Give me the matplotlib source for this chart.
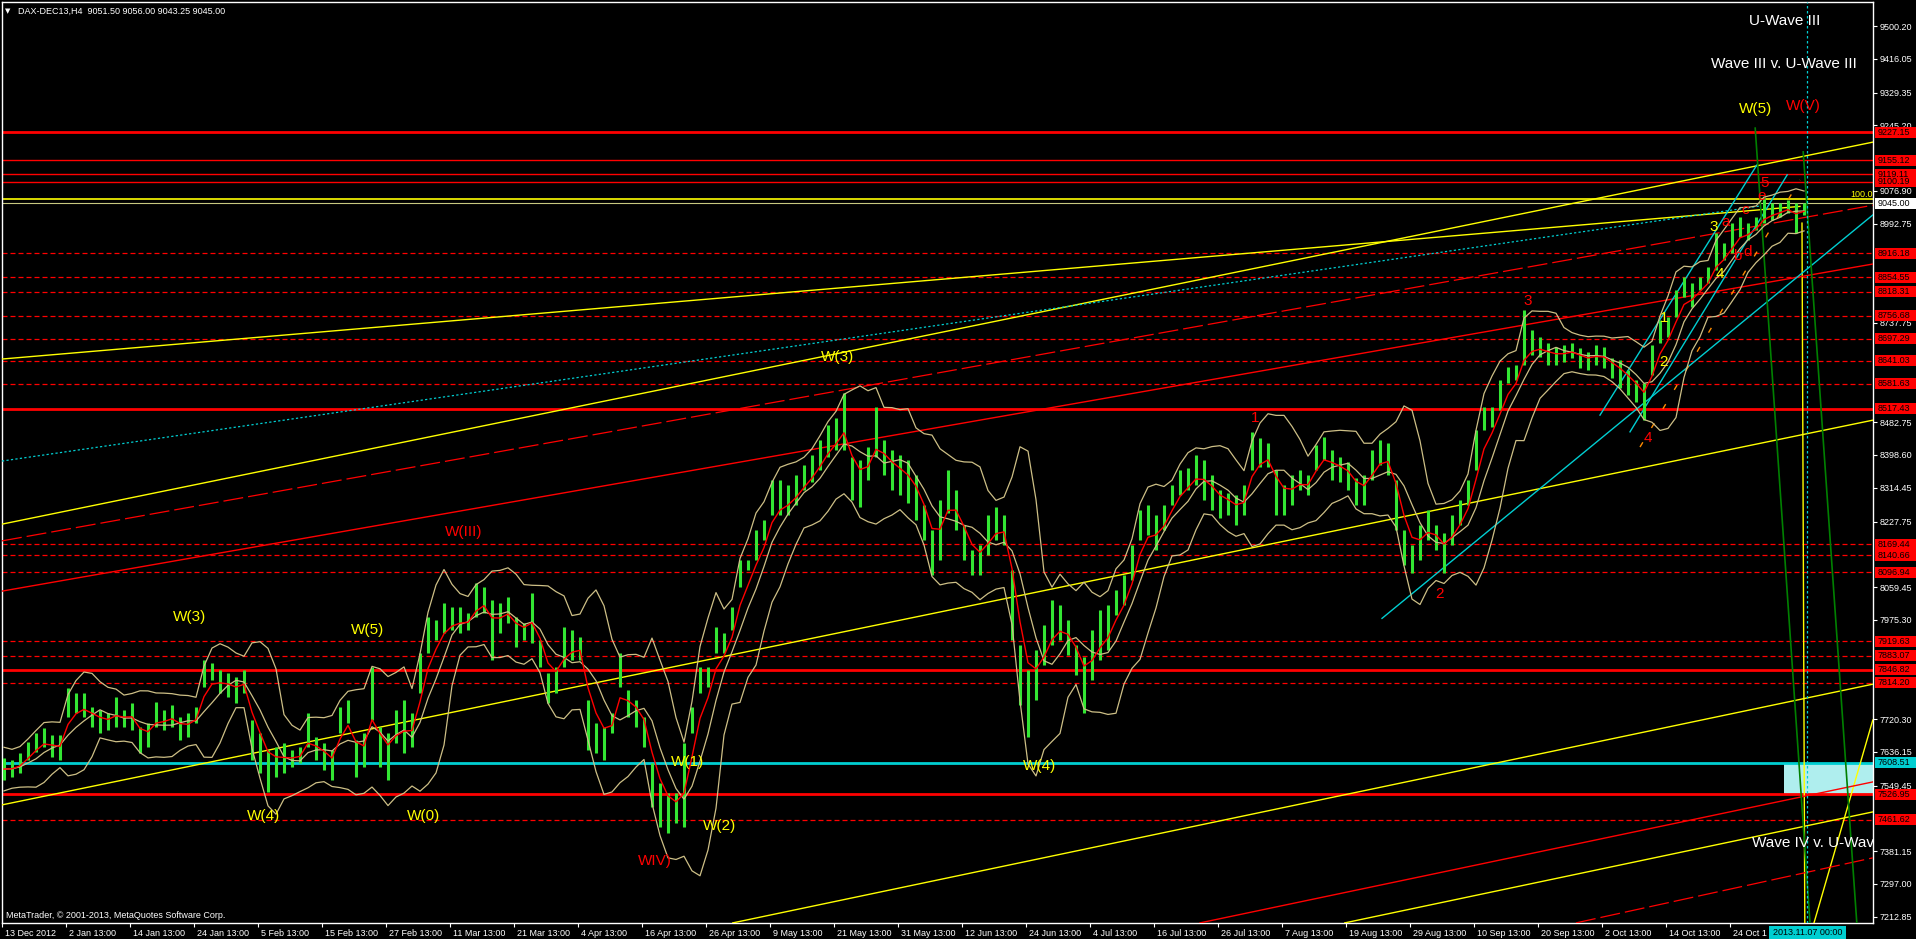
import matplotlib
matplotlib.use('Agg')
import matplotlib.pyplot as plt
from matplotlib.patches import Rectangle
from matplotlib.transforms import ScaledTranslation
import numpy as np
import pandas as pd

plt.rcParams['font.family'] = ['Liberation Sans', 'DejaVu Sans']

# DAX-DEC13 H4 - high / low, about one value per trading day
bar_high = [
    7620, 7615, 7633, 7661, 7685, 7697, 7679, 7679, 7800, 7787,
    7787, 7751, 7744, 7736, 7777, 7744, 7762, 7700, 7710, 7764,
    7744, 7757, 7726, 7736, 7751, 7872, 7864, 7846, 7839, 7828,
    7846, 7718, 7685, 7641, 7649, 7659, 7641, 7649, 7736, 7674,
    7659, 7641, 7751, 7769, 7667, 7685, 7854, 7700, 7685, 7744,
    7769, 7736, 7890, 7982, 7975, 8018, 8008, 8008, 7993, 8070,
    8059, 8026, 8018, 8034, 7982, 7967, 8044, 7923, 7839, 7854,
    7957, 7949, 7931, 7769, 7710, 7700, 7736, 7890, 7795, 7769,
    7726, 7608, 7556, 7531, 7531, 7659, 7751, 7854, 7854, 7957,
    7941, 8008, 8129, 8129, 8206, 8232, 8334, 8334, 8321, 8347,
    8373, 8398, 8437, 8476, 8494, 8558, 8393, 8386, 8419, 8522,
    8437, 8411, 8398, 8386, 8347, 8270, 8206, 8283, 8360, 8309,
    8219, 8155, 8167, 8244, 8265, 8244, 8103, 7910, 7846, 7898,
    7962, 8026, 8013, 7975, 7910, 7880, 7949, 8000, 8013, 8052,
    8090, 8167, 8257, 8270, 8244, 8270, 8321, 8360, 8365, 8398,
    8386, 8347, 8309, 8301, 8296, 8321, 8458, 8442, 8429, 8360,
    8321, 8347, 8360, 8347, 8424, 8445, 8411, 8393, 8381, 8339,
    8347, 8411, 8437, 8429, 8334, 8206, 8167, 8219, 8257, 8219,
    8198, 8244, 8283, 8334, 8463, 8522, 8522, 8591, 8625, 8630,
    8771, 8720, 8702, 8686, 8676, 8681, 8686, 8674, 8663, 8681,
    8676, 8648, 8643, 8617, 8591, 8584, 8681, 8745, 8753, 8822,
    8856, 8840, 8856, 8881, 8969, 8943, 8994, 9010, 8994, 9010,
    9061, 9046, 9046, 9053, 9046, 9046,
]
bar_low = [
    7564, 7572, 7582, 7615, 7636, 7649, 7623, 7615, 7726, 7736,
    7726, 7700, 7685, 7692, 7700, 7700, 7692, 7633, 7649, 7700,
    7692, 7700, 7667, 7674, 7710, 7803, 7821, 7787, 7777, 7762,
    7787, 7615, 7582, 7533, 7572, 7582, 7597, 7608, 7649, 7615,
    7590, 7564, 7685, 7710, 7572, 7597, 7718, 7597, 7564, 7659,
    7633, 7649, 7787, 7890, 7923, 7941, 7949, 7941, 7949, 7982,
    7993, 7872, 7941, 7967, 7905, 7923, 7916, 7854, 7762, 7787,
    7854, 7872, 7872, 7641, 7633, 7615, 7685, 7803, 7726, 7700,
    7649, 7494, 7443, 7428, 7454, 7443, 7685, 7787, 7803, 7890,
    7890, 7949, 8059, 8103, 8129, 8180, 8244, 8244, 8244, 8270,
    8309, 8329, 8360, 8393, 8411, 8411, 8283, 8265, 8334, 8393,
    8347, 8309, 8296, 8275, 8232, 8180, 8090, 8129, 8250, 8206,
    8129, 8090, 8090, 8142, 8180, 8167, 7923, 7757, 7674, 7769,
    7859, 7910, 7923, 7885, 7834, 7736, 7821, 7872, 7898, 7988,
    8013, 8078, 8180, 8193, 8155, 8206, 8270, 8296, 8309, 8321,
    8283, 8257, 8237, 8244, 8219, 8244, 8360, 8368, 8368, 8244,
    8244, 8270, 8309, 8296, 8360, 8386, 8334, 8329, 8309, 8270,
    8270, 8334, 8373, 8347, 8206, 8116, 8095, 8129, 8180, 8155,
    8095, 8167, 8219, 8270, 8360, 8463, 8470, 8514, 8584, 8591,
    8630, 8655, 8650, 8630, 8630, 8637, 8648, 8622, 8617, 8630,
    8622, 8596, 8571, 8553, 8535, 8488, 8604, 8686, 8702, 8753,
    8804, 8779, 8822, 8840, 8874, 8899, 8917, 8959, 8951, 8976,
    8994, 9002, 9010, 9020, 8969, 9015,
]
last_price = 9045.00

# price axis labels that are not hidden behind a level box
price_ticks = [9500.20, 9416.05, 9329.35, 9245.20, 9076.90, 8992.75,
               8737.75, 8482.75, 8398.60, 8314.45, 8227.75, 8059.45, 7975.30,
               7720.30, 7636.15, 7549.45, 7381.15, 7297.00, 7212.85]
# time labels every 32 H4 bars (the last one is cut by the cursor date box)
time_labels = ['13 Dec 2012', '2 Jan 13:00', '14 Jan 13:00', '24 Jan 13:00',
               '5 Feb 13:00', '15 Feb 13:00', '27 Feb 13:00', '11 Mar 13:00',
               '21 Mar 13:00', '4 Apr 13:00', '16 Apr 13:00', '26 Apr 13:00',
               '9 May 13:00', '21 May 13:00', '31 May 13:00', '12 Jun 13:00',
               '24 Jun 13:00', '4 Jul 13:00', '16 Jul 13:00', '26 Jul 13:00',
               '7 Aug 13:00', '19 Aug 13:00', '29 Aug 13:00', '10 Sep 13:00',
               '20 Sep 13:00', '2 Oct 13:00', '14 Oct 13:00', '24 Oct 1']
cursor_date = '2013.11.07 00:00'

# horizontal levels
levels_thick = [9227.15, 8517.43, 7846.82, 7526.95]
levels_thin = [9155.12, 9119.11, 9100.19]
levels_dashed = [8916.18, 8854.55, 8818.31, 8756.68, 8697.29, 8641.03, 8581.63,
                 8169.44, 8140.66, 8096.94, 7919.63, 7883.07, 7814.20, 7461.62]
level_cyan = 7608.51
fib_100 = 9056.0

# trend lines (x0, price0, x1, price1), x counted in daily samples
yellow_lines = [(-0.25, 8221, 233.6, 9202), (-0.25, 8645, 224.5, 9037),
                (-0.25, 7500, 233.6, 8488), (91.1, 7197, 233.6, 7810),
                (167.6, 7197, 233.6, 7482), (226.25, 7197, 233.6, 7718),
                (224.75, 8994, 225.1, 7197)]
red_lines = [(-0.25, 8049, 233.6, 8889), (149.5, 7197, 233.6, 7559)]
red_dash_lines = [(-0.25, 8178, 233.6, 9040), (196.5, 7197, 233.6, 7364)]
cyan_lines = [(172.25, 7979, 233.6, 9015), (199.5, 8501, 219.1, 9143),
              (203.25, 8458, 222.9, 9118)]
cyan_dot_lines = [(-0.25, 8383, 219.5, 9038)]
orange_lines = [(204.5, 8419, 224.5, 9105)]
green_lines = [(218.9, 9238, 225.75, 7197), (224.9, 9177, 231.6, 7197)]
marker_day = 225.4

wave_labels = [
    ('W(3)', 23.25, 7982, 'yellow'), ('W(5)', 45.5, 7949, 'yellow'),
    ('W(4)', 32.4, 7471, 'yellow'), ('W(0)', 52.4, 7471, 'yellow'),
    ('W(III)', 57.4, 8201, 'red'), ('W(1)', 85.4, 7610, 'yellow'),
    ('W(2)', 89.4, 7446, 'yellow'), ('WIV)', 81.4, 7356, 'red'),
    ('W(3)', 104.25, 8650, 'yellow'), ('W(4)', 129.4, 7600, 'yellow'),
    ('1', 156.4, 8494, 'red'), ('2', 179.5, 8042, 'red'),
    ('3', 190.5, 8794, 'red'), ('4', 205.5, 8442, 'red'),
    ('5', 220.1, 9097, 'red'), ('1', 207.5, 8750, 'yellow'),
    ('2', 207.5, 8637, 'yellow'), ('3', 213.75, 8984, 'yellow'),
    ('4', 214.5, 8863, 'yellow'), ('a', 215.25, 8997, 'red'),
    ('b', 216.6, 8910, 'red'), ('c', 217.6, 9028, 'red'),
    ('d', 217.9, 8920, 'red'), ('e', 219.75, 9064, 'red'),
    ('W(5)', 218.9, 9287, 'yellow'), ('W(V)', 224.9, 9295, 'red'),
    ('U-Wave III', 222.6, 9513, 'white'),
    ('Wave III v. U-Wave III', 222.5, 9403, 'white'),
]

W, H = 1916, 939
fig = plt.figure(figsize=(W / 100, H / 100), dpi=100, facecolor='black')
ax = fig.add_axes([2 / W, (H - 923) / H, 1871 / W, 921 / H])
ax.set_facecolor('black')
xmin, xmax = -0.25, 233.625
ymin, ymax = 7196.7, 9561.9
for s in ax.spines.values():
    s.set_color('white')
    s.set_linewidth(1)

x = np.arange(len(bar_high))
hi = np.array(bar_high)
lo = np.array(bar_low)

# horizontal levels
for v in levels_thick:
    ax.axhline(v, color='red', lw=2, zorder=2)
for v in levels_thin:
    ax.axhline(v, color='red', lw=1, zorder=2)
for v in levels_dashed:
    ax.axhline(v, color='red', lw=0.9, dashes=(4, 2.4), zorder=2)
ax.axhline(level_cyan, color='#00CED1', lw=2, zorder=2)
ax.axhline(fib_100, color='yellow', lw=1.2, zorder=2)
ax.axhline(last_price, color='#C8C880', lw=0.8, zorder=2)
ax.add_patch(Rectangle((222.5, 7526.95), xmax - 222.5, level_cyan - 7526.95,
                       facecolor='#AFEEEE', edgecolor='none', zorder=1.5))

def draw(lines, **kw):
    for x0, p0, x1, p1 in lines:
        ax.plot([x0, x1], [p0, p1], **kw)

draw(yellow_lines, color='yellow', lw=1, zorder=3)
draw(red_lines, color='red', lw=1, zorder=3)
draw(red_dash_lines, color='red', lw=0.9, dashes=(16, 4), zorder=3)
draw(cyan_lines, color='#00CED1', lw=1, zorder=3)
draw(cyan_dot_lines, color='#00CED1', lw=0.9, dashes=(1.8, 1.8), zorder=3)
draw(orange_lines, color='#FF8C00', lw=1, dashes=(4, 12), zorder=3)
draw(green_lines, color='#008000', lw=1.2, zorder=3)
ax.axvline(marker_day, color='#00CED1', lw=0.9, dashes=(2, 2), zorder=3)

# bars
ax.vlines(x, lo, hi, color='#33E633', lw=2.2, zorder=4)

# moving average and bollinger-style bands (5 samples ~ 20 H4 bars)
mid = pd.Series((hi + lo) / 2)
fast = mid.ewm(span=3, adjust=False).mean()
basis = mid.rolling(5, min_periods=1).mean()
both = pd.Series(np.column_stack([hi, lo]).ravel())
dev = both.rolling(10, min_periods=2).std(ddof=0).bfill().to_numpy()[1::2]
band_col = '#CDBF86'
ax.plot(x, basis + 2 * dev, color=band_col, lw=0.9, zorder=4.5)
ax.plot(x, basis - 2 * dev, color=band_col, lw=0.9, zorder=4.5)
ax.plot(x, basis, color=band_col, lw=0.9, zorder=4.5)
ax.plot(x, fast, color='red', lw=1, zorder=4.6)

# wave labels
for txt, lx, ly, col in wave_labels:
    ax.text(lx, ly, txt, color=col, fontsize=11, ha='center', va='center', zorder=6)
ax.text(218.5, 7402, 'Wave IV v. U-Wave III', color='white', fontsize=11,
        ha='left', va='center', zorder=6, clip_on=True)
ax.text(1, fib_100, '100.0', transform=ax.get_yaxis_transform(), color='yellow',
        fontsize=6.5, ha='right', va='bottom', zorder=6)

# axes, ticks
ax.yaxis.tick_right()
ax.set_yticks(price_ticks, [f'{v:.2f}' for v in price_ticks])
ax.set_xticks(np.arange(len(time_labels)) * 8 - 0.25, time_labels)
ax.tick_params(axis='both', colors='white', labelsize=6.5, length=3, width=0.8,
               direction='out')
ax.tick_params(axis='y', pad=2)
ax.tick_params(axis='x', pad=1.5)
for lbl in ax.get_xticklabels():
    lbl.set_ha('left')
    lbl.set_transform(lbl.get_transform() + ScaledTranslation(2 / 72, 0, fig.dpi_scale_trans))

# price boxes on the right axis
ytr = ax.get_yaxis_transform()
pxx = 1 / 1871
pxy = (ymax - ymin) / 921

def price_box(v, face, tcol='black'):
    ax.add_patch(Rectangle((1 + 2 * pxx, v - 5.5 * pxy), 41 * pxx, 11 * pxy,
                           transform=ytr, facecolor=face, edgecolor='none',
                           clip_on=False, zorder=20))
    ax.text(1 + 5 * pxx, v, f'{v:.2f}', transform=ytr, ha='left', va='center',
            fontsize=6.5, color=tcol, clip_on=False, zorder=21)

for v in levels_thick + levels_thin + levels_dashed:
    price_box(v, 'red')
price_box(level_cyan, '#00CED1')
price_box(last_price, 'white')

# texts around the chart
fig.text(5 / W, 1 - 11 / H, '\u25BC', color='white', fontsize=5, va='center', family='DejaVu Sans')
fig.text(18 / W, 1 - 11 / H, 'DAX-DEC13,H4  9051.50 9056.00 9043.25 9045.00',
         color='white', fontsize=6.5, va='center')
fig.text(6 / W, 1 - 915 / H, 'MetaTrader, \u00a9 2001-2013, MetaQuotes Software Corp.',
         color='white', fontsize=6.5, va='center')
fig.patches.append(Rectangle((1769 / W, 0), 77 / W, 13 / H, transform=fig.transFigure,
                             facecolor='#00CED1', edgecolor='none', zorder=20, figure=fig))
fig.text(1807.5 / W, 6.5 / H, cursor_date, color='black', fontsize=6.5,
         ha='center', va='center', zorder=21)

ax.set_xlim(xmin, xmax)
ax.set_ylim(ymin, ymax)
fig.savefig('out.png', dpi=100, facecolor='black')
